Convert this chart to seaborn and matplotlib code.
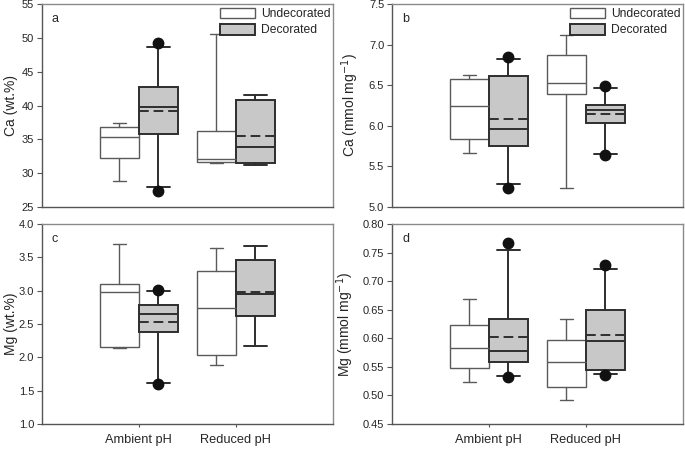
import numpy as np
import matplotlib
matplotlib.use("Agg")
import matplotlib.pyplot as plt
import seaborn as sns
from matplotlib.patches import Patch

sns.set_style("ticks")
plt.rcParams["font.family"] = ["Liberation Sans", "DejaVu Sans"]

groups = ["Ambient pH", "Reduced pH"]
series = ["Undecorated", "Decorated"]

# order in every list: Ambient-Undecorated, Ambient-Decorated, Reduced-Undecorated, Reduced-Decorated
ca_wt_whislo = [28.9, 27.9, 31.5, 31.2]
ca_wt_q1 = [32.2, 35.75, 31.7, 31.55]
ca_wt_med = [35.4, 39.85, 32.15, 33.9]
ca_wt_q3 = [36.8, 42.8, 36.3, 40.8]
ca_wt_whishi = [37.4, 48.7, 50.55, 41.6]
ca_wt_mean = [None, 39.2, None, 35.55]
ca_wt_fliers = [[], [27.4, 49.2], [], []]

ca_mm_whislo = [5.67, 5.28, 5.23, 5.65]
ca_mm_q1 = [5.84, 5.75, 6.39, 6.03]
ca_mm_med = [6.25, 5.96, 6.53, 6.19]
ca_mm_q3 = [6.58, 6.61, 6.87, 6.26]
ca_mm_whishi = [6.63, 6.82, 7.12, 6.47]
ca_mm_mean = [None, 6.08, None, 6.14]
ca_mm_fliers = [[], [5.23, 6.85], [], [5.64, 6.49]]

mg_wt_whislo = [2.14, 1.62, 1.88, 2.175]
mg_wt_q1 = [2.155, 2.375, 2.03, 2.625]
mg_wt_med = [2.985, 2.655, 2.735, 2.95]
mg_wt_q3 = [3.10, 2.785, 3.30, 3.46]
mg_wt_whishi = [3.695, 2.995, 3.645, 3.67]
mg_wt_mean = [None, 2.525, None, 2.985]
mg_wt_fliers = [[], [1.595, 3.015], [], []]

mg_mm_whislo = [0.524, 0.534, 0.492, 0.537]
mg_mm_q1 = [0.548, 0.559, 0.514, 0.545]
mg_mm_med = [0.583, 0.577, 0.559, 0.595]
mg_mm_q3 = [0.623, 0.633, 0.597, 0.650]
mg_mm_whishi = [0.669, 0.755, 0.634, 0.721]
mg_mm_mean = [None, 0.602, None, 0.605]
mg_mm_fliers = [[], [0.533, 0.767], [], [0.536, 0.729]]

panels = [
    ("a", "Ca (wt.%)", (25, 55), np.arange(25, 56, 5), "%d",
     ca_wt_whislo, ca_wt_q1, ca_wt_med, ca_wt_q3, ca_wt_whishi, ca_wt_mean, ca_wt_fliers),
    ("b", "Ca (mmol mg$^{-1}$)", (5.0, 7.5), np.arange(5.0, 7.51, 0.5), "%.1f",
     ca_mm_whislo, ca_mm_q1, ca_mm_med, ca_mm_q3, ca_mm_whishi, ca_mm_mean, ca_mm_fliers),
    ("c", "Mg (wt.%)", (1.0, 4.0), np.arange(1.0, 4.01, 0.5), "%.1f",
     mg_wt_whislo, mg_wt_q1, mg_wt_med, mg_wt_q3, mg_wt_whishi, mg_wt_mean, mg_wt_fliers),
    ("d", "Mg (mmol mg$^{-1}$)", (0.45, 0.80), np.arange(0.45, 0.801, 0.05), "%.2f",
     mg_mm_whislo, mg_mm_q1, mg_mm_med, mg_mm_q3, mg_mm_whishi, mg_mm_mean, mg_mm_fliers),
]

rects = [
    [0.061, 0.540, 0.425, 0.451],
    [0.572, 0.540, 0.425, 0.451],
    [0.061, 0.058, 0.425, 0.444],
    [0.572, 0.058, 0.425, 0.444],
]
label_x = [-0.082, -0.107, -0.082, -0.124]

undec_edge = "#5a5a5a"
dec_edge = "#2e2e2e"
dec_fill = "#c8c8c8"
spine_dark = "#555555"
spine_light = "#8a8a8a"

fig = plt.figure(figsize=(6.85, 4.5), dpi=100)

for i, (letter, ylabel, ylim, yticks, fmt, wlo, q1, med, q3, whi, mean, fl) in enumerate(panels):
    ax = fig.add_axes(rects[i])
    stats = []
    for k in range(4):
        s = {"whislo": wlo[k], "q1": q1[k], "med": med[k], "q3": q3[k],
             "whishi": whi[k], "fliers": fl[k]}
        if mean[k] is not None:
            s["mean"] = mean[k]
        stats.append(s)
    undec = [stats[0], stats[2]]
    dec = [stats[1], stats[3]]

    ax.bxp(undec, positions=[0.8, 1.8], widths=0.4, capwidths=0.13,
           patch_artist=True, showfliers=False,
           boxprops=dict(facecolor="white", edgecolor=undec_edge, linewidth=1.0),
           medianprops=dict(color=undec_edge, linewidth=1.0),
           whiskerprops=dict(color=undec_edge, linewidth=1.0),
           capprops=dict(color=undec_edge, linewidth=1.0))
    ax.bxp(dec, positions=[1.2, 2.2], widths=0.4, capwidths=0.24,
           patch_artist=True, showfliers=True, showmeans=True, meanline=True,
           boxprops=dict(facecolor=dec_fill, edgecolor=dec_edge, linewidth=1.4),
           medianprops=dict(color=dec_edge, linewidth=1.4),
           meanprops=dict(color=dec_edge, linewidth=1.4, linestyle=(0, (5, 2.5))),
           whiskerprops=dict(color=dec_edge, linewidth=1.4),
           capprops=dict(color=dec_edge, linewidth=1.4),
           flierprops=dict(marker="o", markerfacecolor="#111111",
                           markeredgecolor="#111111", markersize=7.5))

    ax.set_xlim(0, 3)
    ax.set_ylim(*ylim)
    ax.set_yticks(yticks)
    ax.yaxis.set_major_formatter(matplotlib.ticker.FormatStrFormatter(fmt))
    ax.set_xticks([1, 2])
    if i >= 2:
        ax.set_xticklabels(groups, fontsize=9.2)
        ax.tick_params(axis="x", length=2.5, color=spine_dark, pad=5)
    else:
        ax.set_xticklabels([])
        ax.tick_params(axis="x", length=0)
    ax.set_ylabel(ylabel, fontsize=10)
    ax.yaxis.set_label_coords(label_x[i], 0.5)
    ax.tick_params(axis="y", labelsize=8, length=3.5, color=spine_dark, pad=2)
    for name, sp in ax.spines.items():
        sp.set_visible(True)
        sp.set_linewidth(1.0)
        sp.set_color(spine_dark if name in ("left", "bottom") else spine_light)
    ax.text(0.035, 0.955, letter, transform=ax.transAxes, fontsize=9,
            va="top", ha="left")

    if i < 2:
        handles = [Patch(facecolor="white", edgecolor=undec_edge, linewidth=1.0),
                   Patch(facecolor=dec_fill, edgecolor=dec_edge, linewidth=1.4)]
        ax.legend(handles, series, loc="upper right", bbox_to_anchor=(1.005, 1.0),
                  frameon=False, fontsize=8.7, handlelength=2.9, handleheight=1.0,
                  borderaxespad=0.1, borderpad=0.2, labelspacing=0.3,
                  handletextpad=0.5)

fig.savefig("out.png", dpi=100)
